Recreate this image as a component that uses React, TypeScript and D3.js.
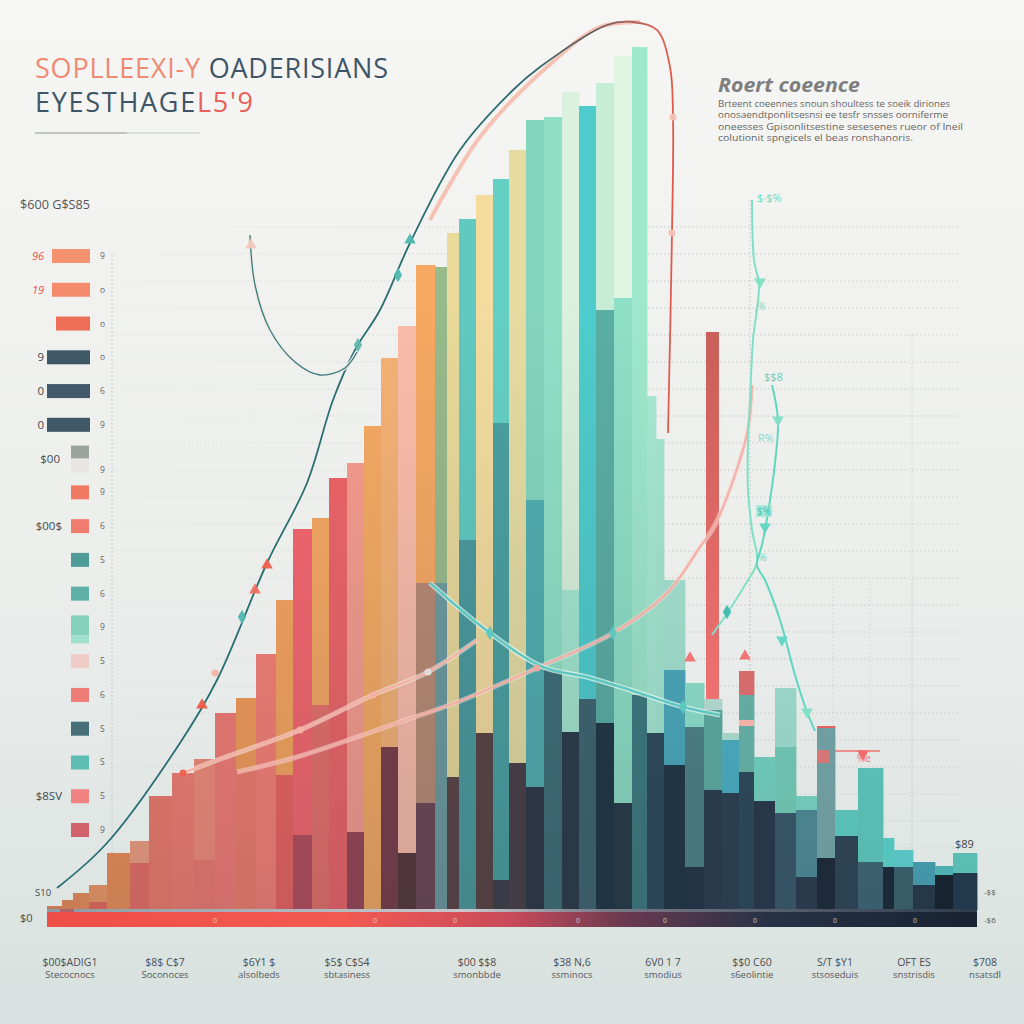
import React from "react";
import * as d3 from "d3";

// ---------- data ----------
// histogram bin edges (x units) and stacked values per bin
const binEdges = [0,1.5,2.6,4.2,6.0,8.3,10.2,12.5,14.7,16.8,18.9,20.9,22.9,24.6,26.5,28.2,30.0,31.7,33.4,35.1,36.9,38.8,40.0,41.2,42.9,44.6,46.2,47.9,49.7,51.5,53.2,54.9,56.7,58.5,60.0,60.9,61.7,63.8,65.7,67.5,69.2,70.7,72.8,74.9,77.0,78.8,81.1,83.6,84.7,86.6,88.8,90.6,93.0];
const barTotals = [0.4,1.0,1.7,2.5,5.7,6.9,11.4,13.7,15.1,19.7,21.2,25.6,31.0,38.1,39.2,43.2,44.7,48.4,55.2,58.4,64.5,64.3,67.7,69.1,71.5,73.1,76.0,79.0,79.3,81.8,80.4,82.7,85.4,86.3,51.4,47.1,33.0,22.7,21.1,17.7,23.9,15.3,22.2,11.4,18.4,10.0,14.2,7.2,6.0,4.8,4.4,5.7];
const barMids = [0,0,0,0.8,0,4.7,0,0,5.0,0,14.0,0,13.5,0,20.5,0,0,0,0,0,32.7,32.7,0,37.0,0,48.7,0,41.0,0,32.0,0,60.0,61.2,0,0,0,24.0,18.3,20.0,17.0,21.5,0,16.3,10.0,0,0,0,0,0,0,0,0];
const barBases = [0,0,0,0,0,0,0,0,0,0,0,0,0,7.5,0,0,7.8,0,16.3,5.7,10.7,0,13.3,0,17.7,3.0,14.7,12.3,24.0,17.8,21.1,18.7,10.7,21.5,17.7,17.7,14.5,4.3,12.0,11.7,13.8,10.9,9.7,3.3,5.2,7.4,4.8,4.3,4.3,2.5,3.5,3.7];

const topPalette = ["#ea8a58","#ec8c58","#ef8e5a","#f29a66","#f09058","#f5a080","#f27c6c","#f47e72","#f68c7a","#f67c76","#f69c58","#f88076","#f9a45e","#f7666e","#f8a862","#ef6468","#f89c8e","#f7aa62","#f5b275","#fbbcaa","#f7a862","#98b98a","#e9d99a","#60c9c0","#f3dc9e","#64cfc3","#e6dca2","#84d5bd","#90e0c6","#d9f1dd","#4ecccc","#c8edd7","#e0f4e2","#9fe8cd","#a8ead4","#a6e8d2","#a6e6d4","#90e6d0","#bfe8dc","#b6eadc","#ec7272","#78dcc8","#a8e8d8","#7ee0cc","#7aaeb0","#62d8cc","#62d4c8","#5fe0d8","#62e0dc","#4aaabe","#56cac8","#66d8cc"];
const midPalette = ["","","","#ea6a5a","","#ec6e66","","","#f27a72","","#f27d6c","","#ee6360","","#e8706a","","","","","","#b98a74","#6e9aa0","","#4a9a9e","","#4aa0a0","","#50aeb0","","#a4e6d0","","#5aaea4","#8ee0c6","","","","#4aacbe","#4e8488","#5eb0a4","#4cb4c8","#6cbcb0","","#78d6c0","#50909c","","","","","","","",""];
const basePalette = ["","","","","","","","","","","","","","#b84c5c","","","#9a4555","","#7a3c4a","#573639","#6e4555","","#5a4345","","#5a4242","#3e3d48","#4a3e46","#2c3644","#3d6e78","#2a3a48","#3e6470","#1f3444","#263846","#3d7a80","#2c4a5c","#2c4a5c","#1f3444","#213446","#2a3c50","#2a4052","#2e4a5c","#28384c","#395a6c","#2a3c50","#1a2838","#2e4658","#3f6878","#1a2838","#3c6470","#26384c","#14202c","#223a50"];

// curves: [x, value]
const mainCurve: [number, number][] = [[1.0,2.2],[6.0,6.7],[13.3,16.7],[17.0,23],[22.0,34.7],[26.0,42.7],[28.6,51],[30.8,56],[33.3,60],[36.3,66.7],[41.3,76],[46.6,82],[49.3,84.3],[56.0,88.5],[58.6,88.8],[61.0,88],[62.3,84.3],[62.6,79.3],[62.5,67.7],[62.1,47.7]];
const pinkArc: [number, number][] = [[38.3,69],[43.3,77.3],[50.0,84.3],[55.3,88.3],[59.3,88.8]];
const hookCurve: [number, number][] = [[20.3,67.5],[20.8,62.5],[22.3,58],[24.8,54.8],[27.3,53.5],[29.8,54.2],[31.0,55.8]];
const lineA: [number, number][] = [[13.6,13.7],[17.6,15.2],[25.3,18],[32.6,21.5],[38.1,23.8],[43.0,27]];
const lineB: [number, number][] = [[19.0,13.8],[25.0,15.3],[35.3,18.8],[40.8,20.7],[49.0,24.2],[56.6,27.7],[62.0,31.7],[65.3,36.3],[66.8,38.5],[70.0,47.6],[70.5,52.5]];
const lineC: [number, number][] = [[38.3,32.7],[44.3,27.7],[49.6,24.3],[54.0,23.3],[58.3,22],[63.6,20.3],[67.3,19.5]];
const lineD1: [number, number][] = [[70.5,71],[70.7,65],[71.2,62.5],[70.6,57],[70.3,51],[70.1,47],[70.1,42],[70.5,38],[71.0,34.8],[69.8,32.5],[68.1,29.8],[66.5,27.5]];
const lineD2: [number, number][] = [[72.5,52.5],[73.1,49],[72.8,44.7],[72.1,39.7],[71.5,36.5],[71.0,34.5],[71.8,33],[73.3,29],[74.8,23.5],[76.0,19.8],[76.8,17.9]];

const markers: [number, number, string, string][] = [
  [22.0,34.5,"#f0604e","triangle"],[20.8,32,"#f07060","triangle"],[19.5,29.3,"#4fb8b0","diamond"],
  [16.8,23.7,"#f7b3a6","circle"],[15.5,20.5,"#ee5a48","triangle"],[13.6,13.7,"#f06050","circle"],
  [35.1,63.5,"#4fb8b0","diamond"],[36.3,67,"#4fb8b0","triangle"],[31.1,56.5,"#5fb8b0","diamond"],
  [71.3,62.8,"#7fe0c4","down"],[73.1,49,"#7fe0c4","down"],[71.8,38.3,"#5fd6c0","down"],
  [68.0,29.8,"#3fbcb0","diamond"],[73.5,27,"#5fd6c0","down"],[76.0,19.8,"#7fe0c4","down"],
  [69.8,25.4,"#f07070","triangle"],[64.3,25.2,"#f07070","triangle"],[44.3,27.7,"#5cc8c0","diamond"],
  [49.0,24.2,"#f5a8a0","circle"],[38.1,23.8,"#dcdcdc","circle"],[25.3,18,"#f6b0a4","circle"],
  [32.6,21.5,"#f6b0a4","circle"],[56.6,27.7,"#5cc8c0","diamond"],[63.6,20.3,"#5cc8c0","diamond"],
  [62.6,79.3,"#f6c0b4","circle"],[62.5,67.7,"#f6c0b4","circle"],[20.4,66.5,"#f4c8bc","triangle"]
];

const spike = { from: 65.9, to: 67.2, low: 21.1, high: 57.8 };

const legendLeft = ["96","19","","9","0","0","$00","","$00$","","","","","","","","$8SV",""];
const legendRight = ["9","o","o","o","6","9","9","9","6","5","6","9","5","6","S","S","5","9"];
const legendColors = ["#f5926e","#f48a6c","#ee6e58","#3f5866","#41596a","#3f5868","#9aa39e","#f07a64","#f07c70","#4e9b9a","#5fb0a8","#84d2bc","#f0ccc6","#f07c78","#476f7a","#5dbcb4","#f08282","#d0636c"];

const bottomTop = ["$00$ADIG1","$8$ C$7","$6Y1 $","$5$ C$S4","$00 $$8","$38 N,6","6V0 1 7","$$0 C60","S/T $Y1","OFT ES","$708"];
const bottomSub = ["Stecocnocs","Soconoces","alsolbeds","sbtasiness","smonbbde","ssminocs","smodius","s6eolintie","stsoseduis","snstrisdis","nsatsdl"];
const bottomCenters = [2.3,11.8,21.2,30.0,43.0,52.5,61.6,70.5,78.8,86.7,93.8];
const bandMarks = [16.8,32.8,40.8,53.1,61.8,70.8,78.8,86.8];

const noteLines = [
  "Brteent coeennes snoun shoultess te soeik diriones",
  "onosaendtponlitsesnsi ee tesfr snsses oorniferme",
  "oneesses Gpisonlitsestine sesesenes rueor of Ineil",
  "colutionit spngicels el beas ronshanoris."
];

const gridValues = d3.range(3.5, 69, 2.7);
const gridColumns = [70.3, 78.6, 82.3, 86.5];

export default function App() {
  const W = 1024, H = 1024;
  const x = d3.scaleLinear().domain([0, 93]).range([47, 977]);
  const y = d3.scaleLinear().domain([0, 90]).range([910, 10]);
  const line = d3.line<[number, number]>().x(d => x(d[0])).y(d => y(d[1])).curve(d3.curveCatmullRom.alpha(0.5));
  const legendY = d3.scalePoint<number>().domain(d3.range(18)).range([256, 830]);

  const sym = (t: string) => d3.symbol().type(t === "triangle" || t === "down" ? d3.symbolTriangle : t === "diamond" ? d3.symbolDiamond : d3.symbolCircle).size(t === "circle" ? 40 : 60)();

  return (
    <svg width={W} height={H} style={{ position: "absolute", left: 0, top: 0 }} fontFamily="'Open Sans', 'DejaVu Sans', sans-serif">
      <defs>
        <linearGradient id="bg" x1="0" y1="0" x2="0" y2="1">
          <stop offset="0" stopColor="#f6f6f4" />
          <stop offset="0.55" stopColor="#eceeec" />
          <stop offset="1" stopColor="#d8e1df" />
        </linearGradient>
        <linearGradient id="shade" gradientUnits="userSpaceOnUse" x1="0" y1="300" x2="0" y2="910">
          <stop offset="0" stopColor="#26323e" stopOpacity="0" />
          <stop offset="1" stopColor="#26323e" stopOpacity="0.18" />
        </linearGradient>
        <linearGradient id="grid" gradientUnits="userSpaceOnUse" x1="112" y1="0" x2="960" y2="0">
          <stop offset="0" stopColor="#c4c9c9" stopOpacity="0.3" />
          <stop offset="0.65" stopColor="#bcc2c2" stopOpacity="0.9" />
          <stop offset="1" stopColor="#c4c9c9" stopOpacity="0.8" />
        </linearGradient>
        <linearGradient id="band" x1="0" y1="0" x2="1" y2="0">
          <stop offset="0" stopColor="#ee4e48" />
          <stop offset="0.32" stopColor="#f25a52" />
          <stop offset="0.5" stopColor="#c84a5a" />
          <stop offset="0.62" stopColor="#6a3a50" />
          <stop offset="0.78" stopColor="#263246" />
          <stop offset="1" stopColor="#182232" />
        </linearGradient>
        <linearGradient id="bandTop" x1="0" y1="0" x2="1" y2="0">
          <stop offset="0" stopColor="#8a9aa6" />
          <stop offset="0.45" stopColor="#c8c8cc" />
          <stop offset="0.6" stopColor="#7a7a88" />
          <stop offset="1" stopColor="#2e3c4e" />
        </linearGradient>
        <linearGradient id="mainLine" gradientUnits="userSpaceOnUse" x1="500" y1="0" x2="672" y2="0">
          <stop offset="0" stopColor="#2b6e72" />
          <stop offset="0.55" stopColor="#5b5b60" />
          <stop offset="0.9" stopColor="#d86a5e" />
          <stop offset="1" stopColor="#e05a4c" />
        </linearGradient>
        <linearGradient id="spike" x1="0" y1="0" x2="0" y2="1">
          <stop offset="0" stopColor="#c9605a" />
          <stop offset="1" stopColor="#ee7070" />
        </linearGradient>
      </defs>
      <rect width={W} height={H} fill="url(#bg)" />

      {/* title */}
      <text x={35} y={78} fontSize={27} textLength={353} lengthAdjust="spacing" fill="#3f5566">
        <tspan fill="#f08a72">SOPLLEEXI-Y</tspan> OADERISIANS
      </text>
      <text x={35} y={112} fontSize={27} textLength={218} lengthAdjust="spacing" fill="#3f5566">
        EYESTHAGE<tspan fill="#e8605a">L5'9</tspan>
      </text>
      <line x1={35} x2={127} y1={133} y2={133} stroke="#8a9296" strokeWidth={1.2} />
      <line x1={127} x2={200} y1={133} y2={133} stroke="#c4c8ca" strokeWidth={1.2} />

      {/* note */}
      <text x={718} y={92} fontSize={19} fontStyle="italic" fontWeight="bold" fill="#7e7e7e" textLength={142} lengthAdjust="spacingAndGlyphs">Roert coeence</text>
      {noteLines.map((t, i) => (
        <text key={i} x={718} y={107 + i * 11.3} fontSize={9.5} fill="#666" textLength={[232, 230, 245, 195][i]} lengthAdjust="spacingAndGlyphs">{t}</text>
      ))}

      {/* grid */}
      {gridValues.map((v, i) => (
        <line key={i} x1={112} x2={960} y1={y(v)} y2={y(v)} stroke="url(#grid)" strokeDasharray="1.5 2.5" strokeWidth={1} />
      ))}
      <line x1={112} x2={112} y1={255} y2={905} stroke="#b8bebe" strokeDasharray="1.5 2.5" />
      <line x1={750} x2={750} y1={200} y2={905} stroke="#c0c4c4" strokeDasharray="1.5 2.5" />
      <line x1={912} x2={912} y1={335} y2={905} stroke="#c8cccc" strokeDasharray="1.5 2.5" />
      {gridColumns.map((g, i) => (
        <line key={i} x1={x(g)} x2={x(g)} y1={580} y2={905} stroke="#ccd0d0" strokeDasharray="1.5 2.5" opacity={0.8} />
      ))}

      {/* legend */}
      <text x={20} y={209} fontSize={12.5} fill="#555" textLength={70} lengthAdjust="spacingAndGlyphs">$600 G$S85</text>
      {legendColors.map((c, i) => {
        const cy = legendY(i) as number;
        const wide = i < 6;
        const x0 = wide ? (i < 2 ? 52 : i === 2 ? 56 : 47) : 71;
        const leftRed = i < 2;
        return (
          <g key={i}>
            {i === 6 ? (
              <>
                <rect x={x0} y={cy - 13} width={89 - x0} height={13} fill={c} />
                <rect x={x0} y={cy} width={89 - x0} height={14} fill="#e9e5e1" />
              </>
            ) : i === 11 ? (
              <>
                <rect x={x0} y={cy - 12} width={89 - x0} height={20} fill={c} />
                <rect x={x0} y={cy + 8} width={89 - x0} height={8} fill="#a0e0cc" />
              </>
            ) : (
              <rect x={x0} y={cy - 7} width={(wide ? 90 : 89) - x0} height={14} fill={c} />
            )}
            {legendLeft[i] && (
              <text x={i === 6 ? 60 : i === 8 || i === 16 ? 62 : 44} y={cy + 4} fontSize={leftRed ? 11 : 11.5} textAnchor="end" fill={leftRed ? "#e8554a" : "#3c4a50"} fontStyle={leftRed ? "italic" : "normal"}>{legendLeft[i]}</text>
            )}
            <text x={100} y={cy + (i === 6 ? 14 : 3)} fontSize={8.5} fill="#666">{legendRight[i]}</text>
          </g>
        );
      })}

      {/* bars */}
      {barTotals.map((t, i) => {
        const x0 = x(binEdges[i]);
        const w = x(binEdges[i + 1]) - x0 + 0.4;
        const base = barBases[i];
        const mid = barMids[i];
        const topStart = mid > 0 ? mid : base;
        return (
          <g key={i}>
            <rect x={x0} y={y(t)} width={w} height={y(topStart) - y(t)} fill={topPalette[i]} />
            {mid > 0 && <rect x={x0} y={y(mid)} width={w} height={y(base) - y(mid)} fill={midPalette[i]} />}
            {base > 0 && <rect x={x0} y={y(base)} width={w} height={y(0) - y(base)} fill={basePalette[i]} />}
            <rect x={x0} y={y(t)} width={w} height={y(0) - y(t)} fill="url(#shade)" />
          </g>
        );
      })}

      {/* red spike and accents */}
      <rect x={x(spike.from)} y={y(spike.high)} width={x(spike.to) - x(spike.from)} height={y(spike.low) - y(spike.high)} fill="url(#spike)" />
      <rect x={x(69.2)} y={y(19.0)} width={x(70.7) - x(69.2)} height={y(18.4) - y(19.0)} fill="#f4b0a6" />
      <rect x={x(77.0)} y={y(18.4)} width={x(78.8) - x(77.0)} height={2} fill="#e86060" />
      <rect x={x(77.0)} y={y(16.0)} width={x(78.2) - x(77.0)} height={y(14.7) - y(16.0)} fill="#e87070" opacity={0.85} />
      <line x1={x(78.8)} x2={x(83.3)} y1={y(15.9)} y2={y(15.9)} stroke="#f07070" strokeWidth={1.5} />
      <path d={sym("triangle")} transform={`translate(${x(81.6)},${y(15.6)}) rotate(180)`} fill="#f06a6a" />
      <text x={x(81.0)} y={y(14.8)} fontSize={10} fill="#f07070">%e</text>

      {/* bottom band */}
      <rect x={47} y={909} width={930} height={3} fill="url(#bandTop)" />
      <rect x={47} y={912} width={930} height={15} fill="url(#band)" />
      <rect x={60} y={909} width={14} height={3} fill="#c04040" opacity={0.6} />
      {bandMarks.map((m, i) => (
        <text key={i} x={x(m)} y={923} fontSize={7} fill="#e8e0e0" opacity={0.8} textAnchor="middle">0</text>
      ))}

      {/* curves */}
      <path d={line(lineA) || ""} fill="none" stroke="#f2ecea" strokeWidth={5} opacity={0.55} />
      <path d={line(lineA) || ""} fill="none" stroke="#f4b0a2" strokeWidth={2.5} opacity={0.9} />
      <path d={line(lineB) || ""} fill="none" stroke="#f8e0da" strokeWidth={5} opacity={0.5} />
      <path d={line(lineB) || ""} fill="none" stroke="#f2ada4" strokeWidth={2.5} opacity={0.9} />
      <path d={line(lineC) || ""} fill="none" stroke="#f0fbf8" strokeWidth={5} opacity={0.7} />
      <path d={line(lineC) || ""} fill="none" stroke="#5ec8c0" strokeWidth={2.5} />
      <path d={line(pinkArc) || ""} fill="none" stroke="#f5b5a5" strokeWidth={4} opacity={0.8} />
      <path d={line(mainCurve) || ""} fill="none" stroke="url(#mainLine)" strokeWidth={1.8} />
      <path d={line(hookCurve) || ""} fill="none" stroke="#ecebe8" strokeWidth={4} opacity={0.8} />
      <path d={line(hookCurve) || ""} fill="none" stroke="#3d7a7c" strokeWidth={1.3} />
      <path d={line(lineD1) || ""} fill="none" stroke="#7fe0c6" strokeWidth={2} />
      <path d={line(lineD2) || ""} fill="none" stroke="#5fd6c0" strokeWidth={2} />
      {markers.map((m, i) => (
        <path key={i} d={sym(m[3])} transform={`translate(${x(m[0])},${y(m[1])})${m[3] === "down" ? " rotate(180)" : ""}`} fill={m[2]} opacity={0.95} />
      ))}

      {/* right labels near curves */}
      <text x={757} y={202} fontSize={11} fill="#6ed8c4">$·$%</text>
      <text x={755} y={310} fontSize={10} fill="#8ad8c4" fontStyle="italic">¡%</text>
      <text x={764} y={381} fontSize={11} fill="#5ed0bc">$$8</text>
      <text x={758} y={442} fontSize={11} fill="#8ad8c8">R%</text>
      <rect x={756} y={505} width={16} height={12} fill="#8ee6d2" opacity={0.7} />
      <text x={757} y={515} fontSize={10} fill="#46c0b0">$%</text>
      <text x={758} y={561} fontSize={11} fill="#6ad8c4" fontStyle="italic">%</text>
      <text x={955} y={848} fontSize={11} fill="#444">$89</text>

      {/* axis labels */}
      <text x={20} y={922} fontSize={11} fill="#3c4a50">$0</text>
      <text x={35} y={896} fontSize={9.5} fill="#3c4a50">S10</text>
      <text x={984} y={895} fontSize={8} fill="#555">-$$</text>
      <text x={984} y={923} fontSize={8} fill="#555">-$6</text>

      {/* bottom labels */}
      {bottomTop.map((t, i) => (
        <g key={i}>
          <text x={x(bottomCenters[i])} y={966} fontSize={10.5} fill="#4a4e52" textAnchor="middle">{t}</text>
          <text x={x(bottomCenters[i])} y={978} fontSize={9.5} fill="#555a5e" textAnchor="middle">{bottomSub[i]}</text>
        </g>
      ))}
    </svg>
  );
}
